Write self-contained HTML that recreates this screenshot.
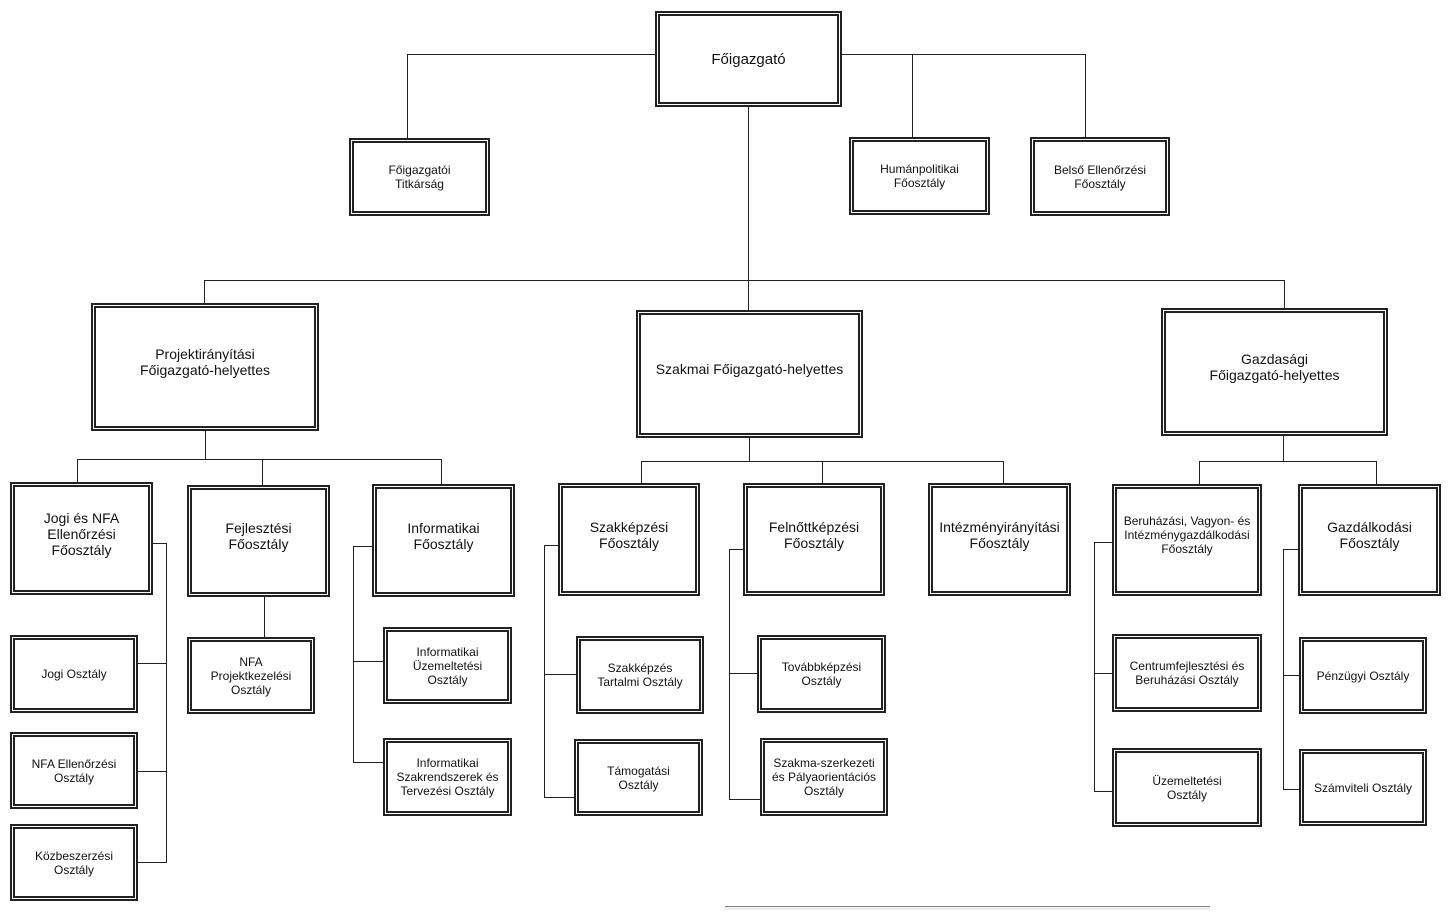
<!DOCTYPE html>
<html><head><meta charset="utf-8"><style>
body{margin:0;width:1455px;height:912px;background:#fff;position:relative;overflow:hidden;font-family:"Liberation Sans",Arial,sans-serif;color:#111}
.b{position:absolute;box-sizing:border-box;border:5px double #222;background:#fff;display:flex;align-items:center;justify-content:center;text-align:center;font-size:12px;line-height:14px}
.m{font-size:14px;line-height:16px;padding-bottom:10px}
.h{position:absolute;height:1px;background:#222}
.v{position:absolute;width:1px;background:#222}
</style></head><body>
<div class="h" style="left:407px;top:54px;width:248px"></div>
<div class="v" style="left:407px;top:54px;height:84px"></div>
<div class="h" style="left:842px;top:54px;width:243px"></div>
<div class="v" style="left:1085px;top:54px;height:83px"></div>
<div class="v" style="left:912px;top:54px;height:83px"></div>
<div class="v" style="left:748px;top:107px;height:203px"></div>
<div class="h" style="left:204px;top:280px;width:1080px"></div>
<div class="v" style="left:204px;top:280px;height:23px"></div>
<div class="v" style="left:1284px;top:280px;height:28px"></div>
<div class="v" style="left:205px;top:431px;height:28px"></div>
<div class="h" style="left:77px;top:459px;width:364px"></div>
<div class="v" style="left:77px;top:459px;height:23px"></div>
<div class="v" style="left:262px;top:459px;height:26px"></div>
<div class="v" style="left:441px;top:459px;height:25px"></div>
<div class="v" style="left:749px;top:438px;height:23px"></div>
<div class="h" style="left:641px;top:461px;width:362px"></div>
<div class="v" style="left:641px;top:461px;height:22px"></div>
<div class="v" style="left:822px;top:461px;height:22px"></div>
<div class="v" style="left:1003px;top:461px;height:22px"></div>
<div class="v" style="left:1283px;top:436px;height:25px"></div>
<div class="h" style="left:1199px;top:461px;width:177px"></div>
<div class="v" style="left:1199px;top:461px;height:23px"></div>
<div class="v" style="left:1376px;top:461px;height:23px"></div>
<div class="h" style="left:153px;top:543px;width:13px"></div>
<div class="v" style="left:166px;top:543px;height:320px"></div>
<div class="h" style="left:138px;top:663px;width:28px"></div>
<div class="h" style="left:138px;top:771px;width:28px"></div>
<div class="h" style="left:138px;top:862px;width:28px"></div>
<div class="v" style="left:264px;top:597px;height:40px"></div>
<div class="h" style="left:353px;top:546px;width:19px"></div>
<div class="v" style="left:353px;top:546px;height:216px"></div>
<div class="h" style="left:353px;top:661px;width:30px"></div>
<div class="h" style="left:353px;top:762px;width:30px"></div>
<div class="h" style="left:544px;top:545px;width:14px"></div>
<div class="v" style="left:544px;top:545px;height:252px"></div>
<div class="h" style="left:544px;top:674px;width:32px"></div>
<div class="h" style="left:544px;top:797px;width:30px"></div>
<div class="h" style="left:729px;top:549px;width:14px"></div>
<div class="v" style="left:729px;top:549px;height:250px"></div>
<div class="h" style="left:729px;top:673px;width:28px"></div>
<div class="h" style="left:729px;top:799px;width:31px"></div>
<div class="h" style="left:1094px;top:542px;width:18px"></div>
<div class="v" style="left:1094px;top:542px;height:249px"></div>
<div class="h" style="left:1094px;top:673px;width:18px"></div>
<div class="h" style="left:1094px;top:791px;width:18px"></div>
<div class="h" style="left:1283px;top:549px;width:15px"></div>
<div class="v" style="left:1283px;top:549px;height:240px"></div>
<div class="h" style="left:1283px;top:675px;width:16px"></div>
<div class="h" style="left:1283px;top:789px;width:16px"></div>
<div style="position:absolute;left:725px;top:906px;width:485px;height:3px;border-top:1px solid #888;background:#eee"></div>
<div class="b" style="left:655px;top:11px;width:187px;height:96px;font-size:15px;line-height:17px">Főigazgató</div>
<div class="b" style="left:349px;top:138px;width:141px;height:78px">Főigazgatói<br>Titkárság</div>
<div class="b" style="left:849px;top:137px;width:141px;height:78px">Humánpolitikai<br>Főosztály</div>
<div class="b" style="left:1030px;top:137px;width:140px;height:79px">Belső Ellenőrzési<br>Főosztály</div>
<div class="b m" style="left:91px;top:303px;width:228px;height:128px">Projektirányítási<br>Főigazgató-helyettes</div>
<div class="b m" style="left:636px;top:310px;width:227px;height:128px">Szakmai Főigazgató-helyettes</div>
<div class="b m" style="left:1161px;top:308px;width:227px;height:128px">Gazdasági<br>Főigazgató-helyettes</div>
<div class="b m" style="left:10px;top:482px;width:143px;height:113px">Jogi és NFA<br>Ellenőrzési<br>Főosztály</div>
<div class="b m" style="left:187px;top:485px;width:143px;height:112px">Fejlesztési<br>Főosztály</div>
<div class="b m" style="left:372px;top:484px;width:143px;height:113px">Informatikai<br>Főosztály</div>
<div class="b m" style="left:558px;top:483px;width:142px;height:113px">Szakképzési<br>Főosztály</div>
<div class="b m" style="left:743px;top:483px;width:142px;height:113px">Felnőttképzési<br>Főosztály</div>
<div class="b m" style="left:928px;top:483px;width:143px;height:113px">Intézményirányítási<br>Főosztály</div>
<div class="b" style="left:1112px;top:484px;width:150px;height:112px;padding-bottom:10px">Beruházási, Vagyon- és<br>Intézménygazdálkodási<br>Főosztály</div>
<div class="b m" style="left:1298px;top:484px;width:143px;height:112px">Gazdálkodási<br>Főosztály</div>
<div class="b" style="left:10px;top:635px;width:128px;height:78px">Jogi Osztály</div>
<div class="b" style="left:10px;top:732px;width:128px;height:77px">NFA Ellenőrzési<br>Osztály</div>
<div class="b" style="left:10px;top:824px;width:128px;height:77px">Közbeszerzési<br>Osztály</div>
<div class="b" style="left:187px;top:637px;width:128px;height:77px">NFA<br>Projektkezelési<br>Osztály</div>
<div class="b" style="left:383px;top:627px;width:129px;height:77px">Informatikai<br>Üzemeltetési<br>Osztály</div>
<div class="b" style="left:383px;top:738px;width:129px;height:78px">Informatikai<br>Szakrendszerek és<br>Tervezési Osztály</div>
<div class="b" style="left:576px;top:636px;width:128px;height:78px">Szakképzés<br>Tartalmi Osztály</div>
<div class="b" style="left:574px;top:739px;width:129px;height:77px">Támogatási<br>Osztály</div>
<div class="b" style="left:757px;top:635px;width:129px;height:78px">Továbbképzési<br>Osztály</div>
<div class="b" style="left:760px;top:738px;width:128px;height:78px">Szakma-szerkezeti<br>és Pályaorientációs<br>Osztály</div>
<div class="b" style="left:1112px;top:634px;width:150px;height:78px">Centrumfejlesztési és<br>Beruházási Osztály</div>
<div class="b" style="left:1112px;top:748px;width:150px;height:79px">Üzemeltetési<br>Osztály</div>
<div class="b" style="left:1299px;top:637px;width:128px;height:77px">Pénzügyi Osztály</div>
<div class="b" style="left:1299px;top:749px;width:128px;height:77px">Számviteli Osztály</div>
</body></html>
